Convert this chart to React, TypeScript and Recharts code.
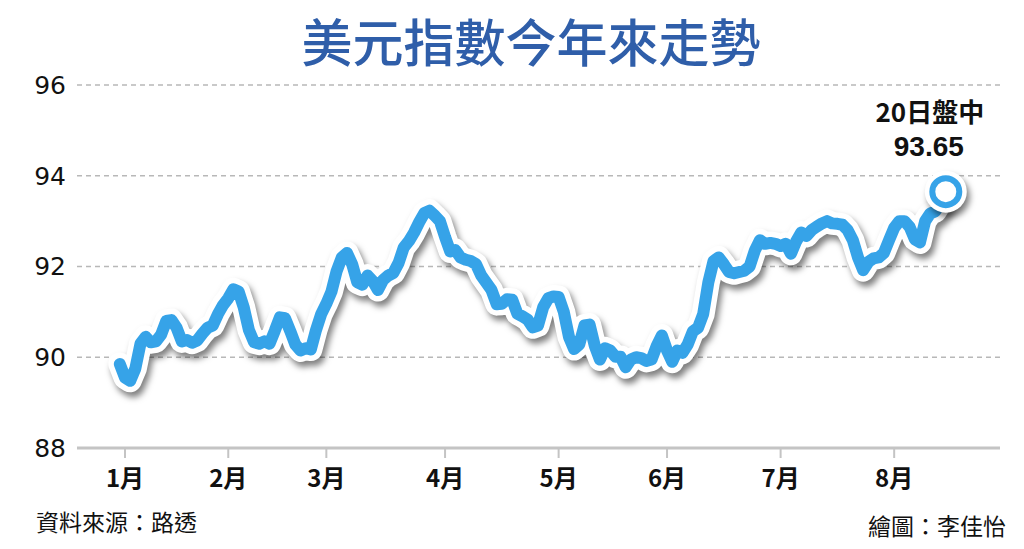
import { LineChart, Line, XAxis, YAxis, CartesianGrid } from 'recharts';

// 美元指數 daily closes, 2021/1/4 to 8/20
const dxyValues = [
  89.85, 89.55, 89.48, 89.75, 90.3, 90.45, 90.33, 90.35, 90.5, 90.8,
  90.82, 90.65, 90.35, 90.38, 90.32, 90.37, 90.52, 90.65, 90.7, 90.95,
  91.15, 91.3, 91.5, 91.45, 91.1, 90.6, 90.33, 90.3, 90.35, 90.3,
  90.58, 90.88, 90.86, 90.58, 90.28, 90.15, 90.2, 90.17, 90.6, 90.95,
  91.18, 91.45, 91.9, 92.2, 92.3, 92.05, 91.65, 91.6, 91.8, 91.68,
  91.48, 91.7, 91.8, 91.86, 92.08, 92.42, 92.56, 92.75, 92.98, 93.18,
  93.23, 93.12, 93.0, 92.65, 92.33, 92.36, 92.2, 92.15, 92.12, 92.05,
  91.8, 91.64, 91.48, 91.17, 91.18, 91.28, 91.27, 90.96, 90.9, 90.83,
  90.66, 90.7, 91.1, 91.3, 91.34, 91.33, 91.0, 90.45, 90.18, 90.28,
  90.7, 90.72, 90.25, 89.95, 90.2, 90.15, 90.01, 90.01, 89.78, 89.95,
  90.0, 89.98, 89.92, 89.95, 90.25, 90.48, 90.15, 89.9, 90.15, 90.1,
  90.28, 90.57, 90.65, 90.95, 91.65, 92.12, 92.2, 92.05, 91.88, 91.85,
  91.88, 91.91, 92.0, 92.35, 92.58, 92.5, 92.52, 92.5, 92.45, 92.5,
  92.28, 92.55, 92.75, 92.67, 92.8, 92.88, 92.95, 93.0, 92.95, 92.94,
  92.92, 92.8, 92.58, 92.2, 91.92, 92.1, 92.18, 92.2, 92.3, 92.58,
  92.85, 93.0, 93.0, 92.87, 92.6, 92.53, 93.0, 93.17, 93.22, 93.4,
  93.65,
];

const monthLabels = ['1月', '2月', '3月', '4月', '5月', '6月', '7月', '8月'];
const monthStartIdx = [1, 21, 40, 63, 85, 106, 128, 150];
const yTicks = [88, 90, 92, 94, 96];
const endLabelTop = '20日盤中';
const endLabelValue = '93.65';

const data = dxyValues.map((v, i) => ({ i, v }));
const lastIdx = data.length - 1;

const BLUE = '#36a3e8';
const CJK = '"Noto Sans CJK TC", "Noto Sans", sans-serif';
const SHADOW = 'drop-shadow(3px 5px 3px rgba(0,0,0,0.5))';

const OutlineDot = (p: any) => {
  if (p.index !== lastIdx) return <g key={p.index} />;
  return (
    <circle key={p.index} cx={p.cx} cy={p.cy} r={21} fill="#fff" style={{ filter: SHADOW }} />
  );
};

const EndDot = (p: any) => {
  if (p.index !== lastIdx) return <g key={p.index} />;
  return (
    <g key={p.index}>
      <circle cx={p.cx} cy={p.cy} r={13.5} fill="#fff" stroke={BLUE} strokeWidth={6} />
      <text
        x={p.cx - 16}
        y={p.cy - 70}
        textAnchor="middle"
        fontFamily={CJK}
        fontWeight={700}
        fontSize={26}
        fill="#111"
      >
        {endLabelTop}
      </text>
      <text
        x={p.cx - 17}
        y={p.cy - 36}
        textAnchor="middle"
        fontFamily='"Liberation Sans", Arial, sans-serif'
        fontWeight={700}
        fontSize={28}
        fill="#111"
      >
        {endLabelValue}
      </text>
    </g>
  );
};

export default function App() {
  return (
    <div
      style={{
        position: 'absolute',
        left: 0,
        top: 0,
        width: 1024,
        height: 549,
        background: '#fff',
        overflow: 'hidden',
      }}
    >
      <style>{`.outline-line .recharts-line-curve { filter: ${SHADOW}; }`}</style>
      <div
        style={{
          position: 'absolute',
          left: 0,
          width: 1062,
          top: 7,
          textAlign: 'center',
          fontFamily: CJK,
          fontWeight: 500,
          fontSize: 51,
          lineHeight: '66px',
          color: '#2f5ea9',
        }}
      >
        美元指數今年來走勢
      </div>

      <LineChart
        width={1024}
        height={549}
        data={data}
        margin={{ top: 85, right: 24, left: 7, bottom: 41 }}
      >
        <CartesianGrid
          vertical={false}
          stroke="#b8b8b8"
          strokeWidth={1.5}
          strokeDasharray="5 4"
        />
        <XAxis
          dataKey="i"
          type="number"
          domain={[-8.3, 170.5]}
          allowDataOverflow
          ticks={monthStartIdx}
          tickFormatter={(_v, idx) => monthLabels[idx]}
          axisLine={{ stroke: '#c4c4c4', strokeWidth: 3 }}
          tickLine={{ stroke: '#c4c4c4', strokeWidth: 2 }}
          tickSize={10}
          tickMargin={12}
          height={60}
          tick={{ fontSize: 24, fill: '#111', fontFamily: CJK, fontWeight: 700 }}
        />
        <YAxis
          domain={[88, 96]}
          ticks={yTicks}
          axisLine={false}
          tickLine={false}
          tickMargin={5}
          width={70}
          tick={{ fontSize: 25, fill: '#111', fontFamily: '"DejaVu Sans", sans-serif' }}
        />
        <Line
          className="outline-line"
          dataKey="v"
          type="linear"
          stroke="#fff"
          strokeWidth={23}
          strokeLinejoin="round"
          strokeLinecap="round"
          dot={OutlineDot}
          activeDot={false}
          isAnimationActive={false}
        />
        <Line
          dataKey="v"
          type="linear"
          stroke={BLUE}
          strokeWidth={12}
          strokeLinejoin="round"
          strokeLinecap="round"
          dot={EndDot}
          activeDot={false}
          isAnimationActive={false}
        />
      </LineChart>

      <div
        style={{
          position: 'absolute',
          left: 36,
          top: 506,
          fontFamily: CJK,
          fontSize: 23,
          lineHeight: '30px',
          color: '#111',
        }}
      >
        資料來源：路透
      </div>
      <div
        style={{
          position: 'absolute',
          right: 18,
          top: 510,
          fontFamily: CJK,
          fontSize: 23,
          lineHeight: '30px',
          color: '#111',
        }}
      >
        繪圖：李佳怡
      </div>
    </div>
  );
}
